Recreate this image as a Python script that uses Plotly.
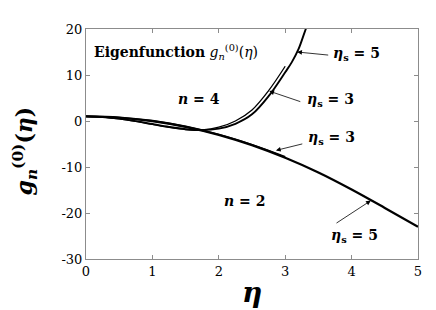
import plotly.graph_objects as go

# n = 2 curves
eta_n2_s5 = [0, 0.5, 1, 1.5, 2, 2.5, 3, 3.5, 4, 4.5, 5]
g_n2_s5 = [1, 0.75, 0.0, -1.25, -3.0, -5.25, -8.0, -11.2, -14.9, -18.9, -23.0]
eta_n2_s3 = [0, 0.5, 1, 1.5, 2, 2.5, 3]
g_n2_s3 = [1, 0.76, 0.02, -1.22, -2.95, -5.15, -7.75]

# n = 4 curves
eta_n4_s5 = [0, 0.25, 0.5, 0.75, 1, 1.25, 1.5, 1.75, 2, 2.25, 2.5, 2.75, 3, 3.1, 3.2, 3.3, 3.35]
g_n4_s5 = [1, 0.88, 0.52, -0.02, -0.65, -1.28, -1.78, -1.98, -1.65, -0.6, 1.45, 5.4, 10.6, 12.8, 15.6, 19.6, 21.5]
eta_n4_s3 = [0, 0.25, 0.5, 0.75, 1, 1.25, 1.5, 1.75, 2, 2.25, 2.5, 2.75, 3]
g_n4_s3 = [1, 0.86, 0.46, -0.1, -0.75, -1.38, -1.85, -1.92, -1.35, 0.0, 2.4, 6.6, 11.9]

x_ticks = [0, 1, 2, 3, 4, 5]
y_ticks = [-30, -20, -10, 0, 10, 20]
y_tick_labels = ["-30", "-20", "-10", "0", "10", "20"]

fig = go.Figure()
for xs, ys, w in [(eta_n2_s5, g_n2_s5, 2.3), (eta_n2_s3, g_n2_s3, 1.6),
                  (eta_n4_s5, g_n4_s5, 1.9), (eta_n4_s3, g_n4_s3, 1.3)]:
    fig.add_trace(go.Scatter(x=xs, y=ys, mode="lines",
                             line=dict(color="black", width=w, shape="spline"),
                             showlegend=False, hoverinfo="skip"))

serif = "DejaVu Serif"
lab_font = dict(family=serif, size=14, color="black")

def lab(txt, x, y, **kw):
    fig.add_annotation(x=x, y=y, xref="x", yref="y", text=txt, showarrow=False,
                       font=lab_font, **kw)

def arrow(txt, x, y, ax, ay, tx, ty):
    fig.add_annotation(x=x, y=y, ax=ax, ay=ay, xref="x", yref="y", axref="x", ayref="y",
                       text="", showarrow=True, arrowhead=2, arrowsize=1.2,
                       arrowwidth=0.8, arrowcolor="black")
    lab(txt, tx, ty)

lab("<b>Eigenfunction</b> <i>g</i><sub><i>n</i></sub><sup>(0)</sup>(<i>η</i>)", 1.35, 14.9)
lab("<b><i>n</i> = 4</b>", 1.7, 4.7)
lab("<b><i>n</i> = 2</b>", 2.38, -17.3)

arrow("<b><i>η</i><sub>s</sub> = 5</b>", 3.18, 15.0, 3.67, 14.3, 4.07, 14.6)
arrow("<b><i>η</i><sub>s</sub> = 3</b>", 2.76, 6.5, 3.25, 4.1, 3.68, 4.5)
arrow("<b><i>η</i><sub>s</sub> = 3</b>", 2.86, -6.4, 3.28, -4.9, 3.7, -3.6)
arrow("<b><i>η</i><sub>s</sub> = 5</b>", 4.29, -17.3, 3.75, -22.4, 4.05, -24.9)

# axis titles as annotations (paper coordinates)
fig.add_annotation(x=-0.185, y=0.47, xref="paper", yref="paper", textangle=-90,
                   xanchor="center", yanchor="middle", showarrow=False,
                   text="<b><i>g</i><sub><i>n</i></sub><sup>(0)</sup>(<i>η</i>)</b>",
                   font=dict(family=serif, size=22, color="black"))
fig.add_annotation(x=0.5, y=-0.145, xref="paper", yref="paper",
                   xanchor="center", yanchor="middle", showarrow=False,
                   text="<b><i>η</i></b>",
                   font=dict(family=serif, size=28, color="black"))

axis_common = dict(showgrid=False, zeroline=False, showline=True, linecolor="#8c8c8c",
                   linewidth=1, mirror="ticks", ticks="inside", ticklen=4,
                   tickcolor="#8c8c8c", tickfont=dict(family=serif, size=13, color="black"))
fig.update_xaxes(range=[0, 5], tickvals=x_ticks, **axis_common)
fig.update_yaxes(range=[-30, 20], tickvals=y_ticks, ticktext=y_tick_labels, **axis_common)

fig.update_layout(width=436, height=310, margin=dict(l=78, r=26, t=21, b=59),
                  plot_bgcolor="white", paper_bgcolor="white",
                  font=dict(family=serif))
fig.write_html("out.html")
